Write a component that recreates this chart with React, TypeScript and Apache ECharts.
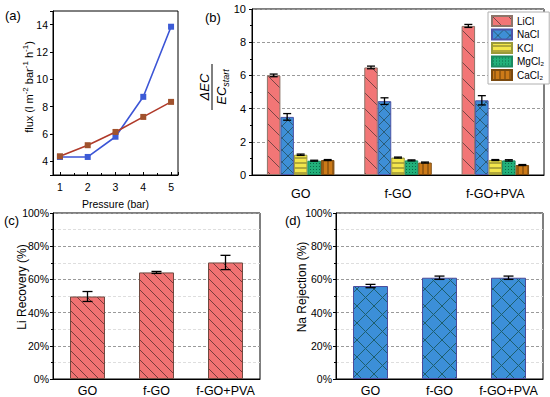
import React, { useEffect, useRef } from 'react';
import * as echarts from 'echarts';

// ---------- data ----------
const pressure = [1, 2, 3, 4, 5];
const fluxBlue = [4.32, 4.32, 5.8, 8.72, 13.85];
const fluxRed = [4.37, 5.18, 6.15, 7.25, 8.35];

const membranes = ['GO', 'f-GO', 'f-GO+PVA'];
const saltNames = ['LiCl', 'NaCl', 'KCl', 'MgCl₂', 'CaCl₂'];
const ecLiCl = [6.0, 6.48, 8.98];
const ecNaCl = [3.5, 4.45, 4.5];
const ecKCl = [1.22, 1.05, 0.9];
const ecMgCl2 = [0.86, 0.88, 0.88];
const ecCaCl2 = [0.9, 0.75, 0.6];
const errLiCl = [0.08, 0.08, 0.09];
const errNaCl = [0.2, 0.2, 0.28];
const errKCl = [0.04, 0.03, 0.03];
const errMgCl2 = [0.03, 0.03, 0.04];
const errCaCl2 = [0.03, 0.03, 0.03];

const liRecovery = [49.7, 64.2, 70.2];
const liRecoveryErr = [3.0, 0.6, 4.3];
const naRejection = [56, 61, 61];
const naRejectionErr = [1.0, 1.0, 1.0];

const yTicksPct = [0, 20, 40, 60, 80, 100];

const FONT = "'Liberation Sans', Arial, Helvetica, sans-serif";

function makePattern(bg: string, fg: string, kind: string, s: number, lw = 1) {
  const c = document.createElement('canvas');
  c.width = s;
  c.height = s;
  const ctx = c.getContext('2d')!;
  ctx.fillStyle = bg;
  ctx.fillRect(0, 0, s, s);
  ctx.strokeStyle = fg;
  ctx.lineWidth = lw;
  ctx.beginPath();
  if (kind === 'back' || kind === 'cross') {
    ctx.moveTo(-1, -1); ctx.lineTo(s + 1, s + 1);
    ctx.moveTo(-1, s - 1); ctx.lineTo(1, s + 1);
    ctx.moveTo(s - 1, -1); ctx.lineTo(s + 1, 1);
  }
  if (kind === 'cross') {
    ctx.moveTo(s + 1, -1); ctx.lineTo(-1, s + 1);
    ctx.moveTo(-1, 1); ctx.lineTo(1, -1);
    ctx.moveTo(s - 1, s + 1); ctx.lineTo(s + 1, s - 1);
  }
  if (kind === 'horiz') { ctx.moveTo(0, s / 2 + 0.5); ctx.lineTo(s, s / 2 + 0.5); }
  if (kind === 'vert') { ctx.moveTo(s / 2 + 0.5, 0); ctx.lineTo(s / 2 + 0.5, s); }
  ctx.stroke();
  if (kind === 'dots') {
    ctx.fillStyle = fg;
    ctx.fillRect(1, 1, 1, 1);
  }
  return { image: c, repeat: 'repeat', imageWidth: s, imageHeight: s } as any;
}

function errRender(barW: number, n: number, capW: number) {
  return (params: any, api: any) => {
    const cat = api.value(0);
    const v = api.value(1);
    const e = api.value(2);
    const k = api.value(3);
    const c = api.coord([cat, v]);
    const x = c[0] + (k - (n - 1) / 2) * barW;
    const yHi = api.coord([cat, v + e])[1];
    const yLo = api.coord([cat, v - e])[1];
    const hw = capW / 2;
    const st = { stroke: '#000', lineWidth: 1.3 };
    return {
      type: 'group',
      children: [
        { type: 'line', shape: { x1: x, y1: yHi, x2: x, y2: yLo }, style: st },
        { type: 'line', shape: { x1: x - hw, y1: yHi, x2: x + hw, y2: yHi }, style: st },
        { type: 'line', shape: { x1: x - hw, y1: yLo, x2: x + hw, y2: yLo }, style: st },
      ],
    };
  };
}

export default function App() {
  const ref = useRef<HTMLDivElement>(null);
  useEffect(() => {
    document.body.style.margin = '0';
    const chart = echarts.init(ref.current!, null, { renderer: 'svg' });

    const ecVals = [ecLiCl, ecNaCl, ecKCl, ecMgCl2, ecCaCl2];
    const ecErrs = [errLiCl, errNaCl, errKCl, errMgCl2, errCaCl2];
    const saltStyles = [
      { color: makePattern('#F27676', '#7a4646', 'back', 16), borderColor: '#8c7468' },
      { color: makePattern('#3E8FD6', '#2a5d78', 'cross', 12), borderColor: '#4d55a8' },
      { color: makePattern('#F3E64C', '#6f6a2a', 'horiz', 5), borderColor: '#9a9a3a' },
      { color: makePattern('#22B07A', '#0c6a48', 'dots', 3), borderColor: '#1a8a60' },
      { color: makePattern('#CC7A18', '#6b3e0a', 'vert', 5), borderColor: '#7a4a10' },
    ];
    const BW = 13.5;

    const txt = { color: '#000', fontFamily: FONT };
    const gridBase = { show: true, borderColor: '#000', borderWidth: 1, backgroundColor: 'transparent', containLabel: false, outerBoundsMode: 'none' };
    const axLine = { show: true, lineStyle: { color: '#000', width: 1 } };

    const barSeriesB = ecVals.map((vals, k) => ({
      type: 'bar',
      name: saltNames[k],
      xAxisIndex: 1,
      yAxisIndex: 1,
      data: vals,
      barWidth: BW,
      barGap: '0%',
      itemStyle: { ...saltStyles[k], borderWidth: 1 },
      z: 2,
    }));
    const errDataB: number[][] = [];
    ecVals.forEach((vals, k) => vals.forEach((v, i) => errDataB.push([i, v, ecErrs[k][i], k])));

    const pctAxis = (gi: number) => ({
      type: 'value',
      gridIndex: gi,
      min: 0,
      max: 100,
      interval: 20,
      axisLine: axLine,
      axisTick: { show: true, length: 3, lineStyle: { color: '#000' } },
      minorTick: { show: true, splitNumber: 2, length: 2, lineStyle: { color: '#000' } },
      axisLabel: { ...txt, fontSize: 10.5, margin: 4, formatter: '{value}%' },
      splitLine: { show: true, lineStyle: { color: '#9a9a9a', type: [3, 2], width: 1 } },
      minorSplitLine: { show: true, lineStyle: { color: '#dedede', type: [3, 2], width: 1 } },
    });
    const catAxis = (gi: number, margin: number) => ({
      type: 'category',
      gridIndex: gi,
      data: membranes,
      axisLine: axLine,
      axisTick: { show: false },
      axisLabel: { ...txt, fontSize: 12.5, margin, interval: 0 },
    });

    const option: any = {
      animation: false,
      backgroundColor: '#fff',
      textStyle: { fontFamily: FONT },
      grid: [
        { ...gridBase, left: 53, top: 11, width: 125, height: 164 },
        { ...gridBase, left: 252, top: 9, width: 292, height: 166 },
        { ...gridBase, left: 53, top: 213, width: 207, height: 166 },
        { ...gridBase, left: 336, top: 213, width: 207, height: 166 },
      ],
      xAxis: [
        {
          type: 'value',
          gridIndex: 0,
          min: 0.75,
          max: 5.25,
          minInterval: 1,
          maxInterval: 1,
          axisLine: axLine,
          axisTick: { show: true, inside: true, length: 3, lineStyle: { color: '#000' } },
          minorTick: { show: true, splitNumber: 2, length: 2, lineStyle: { color: '#000' } },
          splitLine: { show: false },
          axisLabel: {
            ...txt,
            fontSize: 10.5,
            margin: 6,
            formatter: (v: number) => (Number.isInteger(v) ? String(v) : ''),
          },
          name: 'Pressure (bar)',
          nameLocation: 'middle',
          nameGap: 23,
          nameTextStyle: { ...txt, fontSize: 10.5 },
        },
        catAxis(1, 12),
        catAxis(2, 5),
        catAxis(3, 5),
      ],
      yAxis: [
        {
          type: 'value',
          gridIndex: 0,
          min: 3,
          max: 15,
          minInterval: 2,
          maxInterval: 2,
          axisLine: axLine,
          axisTick: { show: true, length: 3, lineStyle: { color: '#000' } },
          splitLine: { show: false },
          axisLabel: {
            ...txt,
            fontSize: 10.5,
            margin: 5,
            formatter: (v: number) => (v % 2 === 0 ? String(v) : ''),
          },
        },
        {
          type: 'value',
          gridIndex: 1,
          min: 0,
          max: 10,
          interval: 2,
          axisLine: axLine,
          axisTick: { show: true, length: 3, lineStyle: { color: '#000' } },
          minorTick: { show: true, splitNumber: 2, length: 2, lineStyle: { color: '#000' } },
          axisLabel: { ...txt, fontSize: 11, margin: 6 },
          splitLine: { show: true, lineStyle: { color: '#9a9a9a', type: [3, 2], width: 1 } },
        },
        pctAxis(2),
        pctAxis(3),
      ],
      legend: {
        data: saltNames,
        orient: 'vertical',
        left: 488,
        top: 12,
        icon: 'rect',
        itemWidth: 20,
        itemHeight: 10,
        itemGap: 1.5,
        padding: [3, 5, 3, 3],
        borderColor: '#b0b0b0',
        borderWidth: 1,
        backgroundColor: '#fff',
        textStyle: { ...txt, fontSize: 10 },
      },
      series: [
        {
          type: 'line',
          name: 'flux1',
          xAxisIndex: 0,
          yAxisIndex: 0,
          data: pressure.map((p, i) => [p, fluxBlue[i]]),
          symbol: 'rect',
          symbolSize: 6,
          lineStyle: { color: '#3C55D6', width: 1.6 },
          itemStyle: { color: '#3C5BD6' },
        },
        {
          type: 'line',
          name: 'flux2',
          xAxisIndex: 0,
          yAxisIndex: 0,
          data: pressure.map((p, i) => [p, fluxRed[i]]),
          symbol: 'rect',
          symbolSize: 6,
          lineStyle: { color: '#B03A2A', width: 1.6 },
          itemStyle: { color: '#A0522D' },
        },
        ...barSeriesB,
        {
          type: 'custom',
          name: 'errB',
          xAxisIndex: 1,
          yAxisIndex: 1,
          data: errDataB,
          encode: { x: 0, y: 1 },
          renderItem: errRender(BW, 5, 8),
          z: 5,
        },
        {
          type: 'bar',
          name: 'Li Recovery',
          xAxisIndex: 2,
          yAxisIndex: 2,
          data: liRecovery,
          barWidth: 35,
          itemStyle: { color: makePattern('#F07272', '#7a3b3b', 'back', 10), borderColor: '#6e4a40', borderWidth: 1 },
        },
        {
          type: 'custom',
          name: 'errC',
          xAxisIndex: 2,
          yAxisIndex: 2,
          data: liRecovery.map((v, i) => [i, v, liRecoveryErr[i], 0]),
          encode: { x: 0, y: 1 },
          renderItem: errRender(35, 1, 10),
          z: 5,
        },
        {
          type: 'bar',
          name: 'Na Rejection',
          xAxisIndex: 3,
          yAxisIndex: 3,
          data: naRejection,
          barWidth: 35,
          itemStyle: { color: makePattern('#3C8FD8', '#1d5f6e', 'cross', 17), borderColor: '#4b4a9a', borderWidth: 1 },
        },
        {
          type: 'custom',
          name: 'errD',
          xAxisIndex: 3,
          yAxisIndex: 3,
          data: naRejection.map((v, i) => [i, v, naRejectionErr[i], 0]),
          encode: { x: 0, y: 1 },
          renderItem: errRender(35, 1, 10),
          z: 5,
        },
      ],
      graphic: [
        { type: 'text', x: 5, y: 15, style: { text: '(a)', fontSize: 13, fontFamily: FONT, fill: '#000', verticalAlign: 'middle' } },
        { type: 'text', x: 205, y: 17, style: { text: '(b)', fontSize: 13, fontFamily: FONT, fill: '#000', verticalAlign: 'middle' } },
        { type: 'text', x: 4, y: 220, style: { text: '(c)', fontSize: 13, fontFamily: FONT, fill: '#000', verticalAlign: 'middle' } },
        { type: 'text', x: 285, y: 220, style: { text: '(d)', fontSize: 13, fontFamily: FONT, fill: '#000', verticalAlign: 'middle' } },
        {
          type: 'text',
          x: 29,
          y: 87,
          rotation: Math.PI / 2,
          style: {
            text: 'flux (l m{s|-2} bar{s|-1} h{s|-1})',
            fontSize: 11,
            fontFamily: FONT,
            fill: '#000',
            align: 'center',
            verticalAlign: 'middle',
            rich: { s: { fontSize: 8, fontFamily: FONT, fill: '#000', padding: [0, 0, 7, 0] } },
          },
        },
        {
          type: 'text',
          x: 22,
          y: 287,
          rotation: Math.PI / 2,
          style: { text: 'Li Recovery (%)', fontSize: 12, fontFamily: FONT, fill: '#000', align: 'center', verticalAlign: 'middle' },
        },
        {
          type: 'text',
          x: 302,
          y: 287,
          rotation: Math.PI / 2,
          style: { text: 'Na Rejection (%)', fontSize: 12, fontFamily: FONT, fill: '#000', align: 'center', verticalAlign: 'middle' },
        },
        {
          type: 'group',
          x: 212,
          y: 87,
          rotation: Math.PI / 2,
          children: [
            {
              type: 'text',
              x: 0,
              y: -1,
              style: { text: 'ΔEC', fontSize: 13, fontStyle: 'italic', fontFamily: FONT, fill: '#000', align: 'center', verticalAlign: 'bottom' },
            },
            { type: 'line', shape: { x1: -23, y1: 0, x2: 23, y2: 0 }, style: { stroke: '#000', lineWidth: 1 } },
            {
              type: 'text',
              x: 0,
              y: 1,
              style: {
                text: '{e|EC}{s|start}',
                align: 'center',
                verticalAlign: 'top',
                fontSize: 13,
                fontFamily: FONT,
                fill: '#000',
                rich: {
                  e: { fontSize: 13, fontStyle: 'italic', fontFamily: FONT, fill: '#000' },
                  s: { fontSize: 9, fontStyle: 'italic', fontFamily: FONT, fill: '#000', padding: [8, 0, 0, 0] },
                },
              },
            },
          ],
        },
      ],
    };

    chart.setOption(option);
    return () => chart.dispose();
  }, []);
  return <div ref={ref} style={{ width: 550, height: 397 }} />;
}
